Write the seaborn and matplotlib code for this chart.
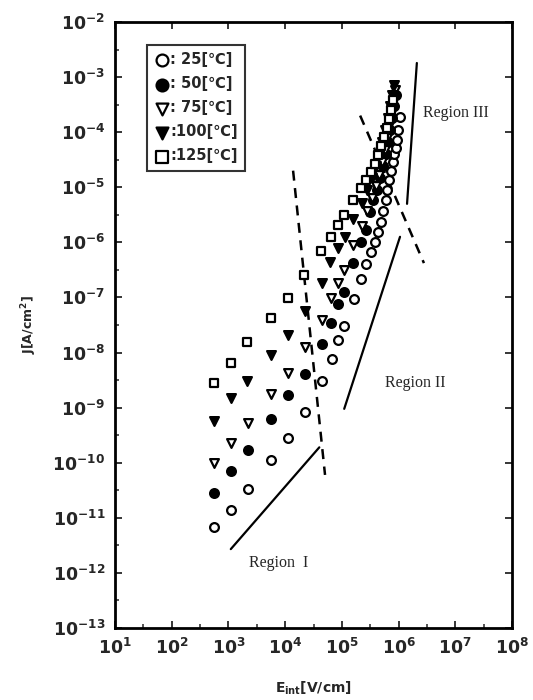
import numpy as np
import pandas as pd
import seaborn as sns
import matplotlib
matplotlib.use("Agg")
import matplotlib.pyplot as plt
from matplotlib.ticker import FixedLocator, NullFormatter

# measured points, E_int [V/cm] vs J [A/cm^2]
e_25 = [5.6e2, 1.1e3, 2.2e3, 5.6e3, 1.1e4, 2.2e4, 4.5e4, 6.7e4, 8.6e4, 1.1e5, 1.64e5, 2.2e5, 2.7e5, 3.3e5,
        3.8e5, 4.3e5, 4.9e5, 5.3e5, 6.0e5, 6.3e5, 6.8e5, 7.3e5, 8.0e5, 8.3e5, 9.0e5, 9.4e5, 9.8e5, 1.06e6]
j_25 = [6.8e-12, 1.4e-11, 3.3e-11, 1.1e-10, 2.8e-10, 8.3e-10, 3.0e-9, 7.6e-9, 1.7e-8, 3.0e-8, 9.3e-8, 2.2e-7,
        4.1e-7, 6.8e-7, 1.0e-6, 1.55e-6, 2.3e-6, 3.7e-6, 5.9e-6, 8.9e-6, 1.35e-5, 2.0e-5, 2.9e-5, 4.0e-5,
        5.1e-5, 7.2e-5, 1.1e-4, 1.9e-4]

e_50 = [5.6e2, 1.1e3, 2.2e3, 5.6e3, 1.1e4, 2.2e4, 4.5e4, 6.4e4, 8.6e4, 1.1e5, 1.57e5, 2.2e5, 2.7e5, 3.1e5,
        3.5e5, 4.2e5, 4.7e5, 5.3e5, 6.0e5, 6.5e5, 7.1e5, 7.7e5, 8.3e5, 9.0e5]
j_50 = [2.8e-11, 7.1e-11, 1.7e-10, 6.2e-10, 1.7e-9, 4.1e-9, 1.4e-8, 3.5e-8, 7.6e-8, 1.26e-7, 4.3e-7, 1.0e-6,
        1.7e-6, 3.5e-6, 5.9e-6, 8.9e-6, 1.5e-5, 2.4e-5, 4.0e-5, 6.6e-5, 1.1e-4, 1.8e-4, 3.0e-4, 4.7e-4]

e_75 = [5.6e2, 1.1e3, 2.2e3, 5.6e3, 1.1e4, 2.2e4, 4.5e4, 6.4e4, 8.6e4, 1.1e5, 1.57e5, 2.3e5, 2.8e5, 3.4e5,
        4.0e5, 4.5e5, 5.1e5, 5.8e5, 6.3e5, 6.8e5, 7.3e5, 8.0e5, 8.6e5]
j_75 = [1.0e-10, 2.3e-10, 5.2e-10, 1.8e-9, 4.3e-9, 1.26e-8, 3.9e-8, 9.8e-8, 1.8e-7, 3.2e-7, 8.9e-7, 2.0e-6,
        3.7e-6, 6.5e-6, 1.05e-5, 1.7e-5, 2.9e-5, 4.8e-5, 7.8e-5, 1.3e-4, 2.1e-4, 3.5e-4, 5.9e-4]

e_100 = [5.6e2, 1.1e3, 2.1e3, 5.6e3, 1.1e4, 2.2e4, 4.5e4, 6.2e4, 8.6e4, 1.14e5, 1.57e5, 2.3e5, 2.8e5, 3.4e5,
         4.0e5, 4.5e5, 5.1e5, 5.8e5, 6.5e5, 7.1e5, 7.7e5, 8.3e5]
j_100 = [5.7e-10, 1.5e-9, 3.0e-9, 9.1e-9, 2.1e-8, 5.6e-8, 1.8e-7, 4.4e-7, 7.9e-7, 1.26e-6, 2.6e-6, 5.1e-6,
         8.9e-6, 1.5e-5, 2.4e-5, 4.0e-5, 6.6e-5, 1.1e-4, 1.8e-4, 3.0e-4, 4.7e-4, 7.2e-4]

e_125 = [5.6e2, 1.1e3, 2.1e3, 5.6e3, 1.1e4, 2.15e4, 4.3e4, 6.4e4, 8.6e4, 1.1e5, 1.57e5, 2.2e5, 2.7e5, 3.3e5,
         3.8e5, 4.3e5, 4.9e5, 5.5e5, 6.3e5, 6.8e5, 7.3e5, 8.0e5]
j_125 = [2.8e-9, 6.5e-9, 1.55e-8, 4.3e-8, 9.8e-8, 2.6e-7, 6.9e-7, 1.26e-6, 2.1e-6, 3.2e-6, 5.9e-6, 9.8e-6,
         1.35e-5, 1.9e-5, 2.6e-5, 3.9e-5, 5.6e-5, 8.1e-5, 1.2e-4, 1.7e-4, 2.5e-4, 3.8e-4]

# guide lines (region slopes and boundaries)
reg1_e = [1.1e3, 4.0e4]
reg1_j = [2.7e-12, 1.9e-10]
reg2_e = [1.1e5, 1.06e6]
reg2_j = [9.5e-10, 1.26e-6]
reg3_e = [1.41e6, 2.1e6]
reg3_j = [5.0e-6, 1.8e-3]
bound1_e = [1.38e4, 5.05e4]
bound1_j = [2.0e-5, 6.0e-11]
bound2_e = [2.1e5, 2.8e6]
bound2_j = [2.0e-4, 4.2e-7]

labels = [": 25[\u2103]", ": 50[\u2103]", ": 75[\u2103]", ":100[\u2103]", ":125[\u2103]"]
x_exp = [1, 2, 3, 4, 5, 6, 7, 8]
y_exp = [-13, -12, -11, -10, -9, -8, -7, -6, -5, -4, -3, -2]

sns.set_style("ticks")
plt.rcParams["font.family"] = ["DejaVu Sans"]

fig = plt.figure(figsize=(5.33, 7.0), dpi=100)
ax = fig.add_axes([0.2158, 0.1029, 0.7448, 0.8657])

series = [
    (e_25, j_25, "o", "white", labels[0]),
    (e_50, j_50, "o", "black", labels[1]),
    (e_75, j_75, "v", "white", labels[2]),
    (e_100, j_100, "v", "black", labels[3]),
    (e_125, j_125, "s", "white", labels[4]),
]
for e, j, m, fc, lab in series:
    df = pd.DataFrame({"E": e, "J": j})
    sns.scatterplot(data=df, x="E", y="J", marker=m, color=fc, edgecolor="black",
                    linewidth=1.6, s=40, label=lab, ax=ax, zorder=3)

for xe, yj in [(reg1_e, reg1_j), (reg2_e, reg2_j), (reg3_e, reg3_j)]:
    ax.plot(xe, yj, color="black", lw=1.6)
for xe, yj in [(bound1_e, bound1_j), (bound2_e, bound2_j)]:
    ax.plot(xe, yj, color="black", lw=1.8, linestyle=(0, (4, 3)))

ax.set_xscale("log")
ax.set_yscale("log")
ax.set_xlim(1e1, 1e8)
ax.set_ylim(1e-13, 1e-2)

ax.xaxis.set_major_locator(FixedLocator([10.0 ** k for k in x_exp]))
ax.yaxis.set_major_locator(FixedLocator([10.0 ** k for k in y_exp]))
ax.xaxis.set_minor_locator(FixedLocator([10.0 ** (k + 0.5) for k in x_exp[:-1]]))
ax.yaxis.set_minor_locator(FixedLocator([10.0 ** (k + 0.5) for k in y_exp[:-1]]))
ax.xaxis.set_minor_formatter(NullFormatter())
ax.yaxis.set_minor_formatter(NullFormatter())
ax.set_xticklabels([r"$\mathbf{10^{%d}}$" % k for k in x_exp], fontsize=12.5)
ax.set_yticklabels([r"$\mathbf{10^{%d}}$" % k for k in y_exp], fontsize=12.5)

ax.tick_params(which="major", direction="in", length=5, width=1.3, top=True, right=True, pad=7)
ax.tick_params(which="minor", direction="in", length=3, width=1.1, top=False, right=False)
for sp in ax.spines.values():
    sp.set_linewidth(2.0)
    sp.set_color("black")

ax.set_xlabel(r"$\mathbf{E_{int}}$[V/cm]", fontsize=10, fontweight="bold", labelpad=16)
ax.set_ylabel(r"J[A/cm$^{\mathbf{2}}$]", fontsize=9, fontweight="bold", labelpad=10)

serif = "Liberation Serif"
ax.text(2.7e6, 2.2e-4, "Region III", fontsize=11.5, family=serif, va="center")
ax.text(5.8e5, 2.8e-9, "Region II", fontsize=11.5, family=serif, va="center")
ax.text(2.3e3, 1.5e-12, "Region  I", fontsize=11.5, family=serif, va="center")

leg = ax.legend(loc="upper left", bbox_to_anchor=(0.08, 0.962), frameon=True, fancybox=False,
                handletextpad=0.0, handlelength=1.1, labelspacing=0.62, borderpad=0.5,
                borderaxespad=0.0, markerscale=1.35,
                prop={"weight": "bold", "size": 10.5})
leg.get_frame().set_edgecolor("black")
leg.get_frame().set_linewidth(1.5)

fig.savefig("out.png", dpi=100)
